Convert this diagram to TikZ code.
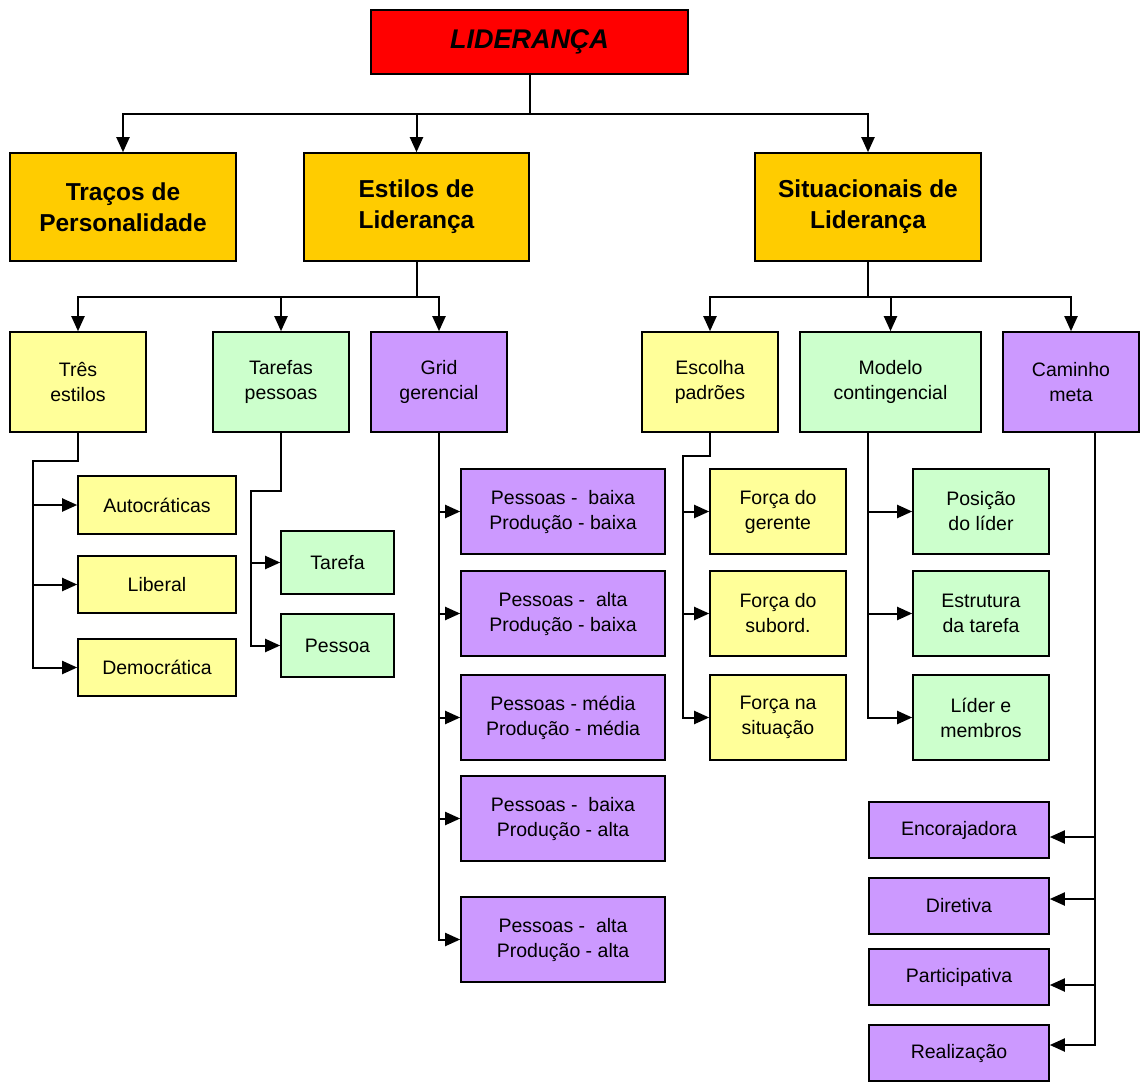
\documentclass[tikz,border=0pt]{standalone}
\usepackage{fontspec}
\setmainfont{Liberation Sans}
\usetikzlibrary{arrows.meta,calc}
\definecolor{cred}{HTML}{FF0000}
\definecolor{cgold}{HTML}{FFCC00}
\definecolor{cyel}{HTML}{FFFF99}
\definecolor{cgrn}{HTML}{CCFFCC}
\definecolor{cpur}{HTML}{CC99FF}
\begin{document}
\begin{tikzpicture}[x=1pt,y=-1pt,
 box/.style={draw=black, line width=1.6pt, align=center, inner sep=0pt, font=\fontsize{19.5}{25}\selectfont},
 head/.style={box, fill=cgold, font=\fontsize{24.5}{31}\selectfont\bfseries},
 yel/.style={box, fill=cyel}, grn/.style={box, fill=cgrn}, pur/.style={box, fill=cpur},
 line/.style={line width=2pt},
 arr/.style={line width=2pt, -{Triangle[length=15pt,width=13pt]}}]
\useasboundingbox (0,0) rectangle (1141,1082);
% level 0
\node[box, fill=cred, font=\fontsize{27}{31}\selectfont\bfseries\itshape, minimum width=317pt, minimum height=64pt] (lid) at (529.5,42) {LIDERANÇA};
% level 1
\node[head, minimum width=226pt, minimum height=108pt] (tra) at (123,207) {Traços de\\Personalidade};
\node[head, minimum width=225pt, minimum height=108pt] (est) at (416.5,207) {Estilos de\\Liderança};
\node[head, minimum width=226pt, minimum height=108pt] (sit) at (868,207) {Situacionais de\\Liderança};
% level 2
\node[yel, minimum width=136pt, minimum height=100pt] (tres) at (78,382) {Três\\estilos};
\node[grn, minimum width=136pt, minimum height=100pt] (tar) at (281,382) {Tarefas\\pessoas};
\node[pur, minimum width=136pt, minimum height=100pt] (grid) at (439,382) {Grid\\gerencial};
\node[yel, minimum width=136pt, minimum height=100pt] (esc) at (710,382) {Escolha\\padrões};
\node[grn, minimum width=181pt, minimum height=100pt] (mod) at (890.5,382) {Modelo\\contingencial};
\node[pur, minimum width=136pt, minimum height=100pt] (cam) at (1071,382) {Caminho\\meta};
% level 3
\node[yel, minimum width=158pt, minimum height=58pt] (auto) at (157,505) {Autocráticas};
\node[yel, minimum width=158pt, minimum height=57pt] (lib) at (157,584.5) {Liberal};
\node[yel, minimum width=158pt, minimum height=57pt] (dem) at (157,667.5) {Democrática};
\node[grn, minimum width=113pt, minimum height=63pt] (tfa) at (337.5,562.5) {Tarefa};
\node[grn, minimum width=113pt, minimum height=63pt] (pes) at (337.5,645.5) {Pessoa};
\node[pur, minimum width=204pt, minimum height=85pt] (g1) at (563,511.5) {Pessoas -~ baixa\\Produção - baixa};
\node[pur, minimum width=204pt, minimum height=85pt] (g2) at (563,613.5) {Pessoas -~ alta\\Produção - baixa};
\node[pur, minimum width=204pt, minimum height=85pt] (g3) at (563,717.5) {Pessoas - média\\Produção - média};
\node[pur, minimum width=204pt, minimum height=85pt] (g4) at (563,818.5) {Pessoas -~ baixa\\Produção - alta};
\node[pur, minimum width=204pt, minimum height=85pt] (g5) at (563,939.5) {Pessoas -~ alta\\Produção - alta};
\node[yel, minimum width=136pt, minimum height=85pt] (f1) at (778,511.5) {Força do\\gerente};
\node[yel, minimum width=136pt, minimum height=85pt] (f2) at (778,613.5) {Força do\\subord.};
\node[yel, minimum width=136pt, minimum height=85pt] (f3) at (778,717.5) {Força na\\situação};
\node[grn, minimum width=136pt, minimum height=85pt] (p1) at (981,511.5) {Posição\\do líder};
\node[grn, minimum width=136pt, minimum height=85pt] (p2) at (981,613.5) {Estrutura\\da tarefa};
\node[grn, minimum width=136pt, minimum height=85pt] (p3) at (981,717.5) {Líder e\\membros};
\node[pur, minimum width=180pt, minimum height=56pt] (enc) at (959,830) {Encorajadora};
\node[pur, minimum width=180pt, minimum height=56pt] (dir) at (959,906) {Diretiva};
\node[pur, minimum width=180pt, minimum height=56pt] (par) at (959,977) {Participativa};
\node[pur, minimum width=180pt, minimum height=56pt] (rea) at (959,1053) {Realização};
% junction coordinates
\coordinate (j1) at (529.5,114);
\coordinate (j2) at (416.5,297);
\coordinate (j3) at (868,297);
\coordinate (t1) at (33,461);
\coordinate (t2) at (251,491);
\coordinate (e0) at (683,456);
\coordinate (m0) at (868,432);
\coordinate (c0) at (1095,432);
\coordinate (ae) at ($(enc.east)+(0,7)$);
\coordinate (ad) at ($(dir.east)+(0,-7)$);
\coordinate (ap) at ($(par.east)+(0,8)$);
\coordinate (ar) at ($(rea.east)+(0,-8)$);
% level 0 -> 1
\draw[line] (lid.south) -- (j1);
\draw[arr] (j1) -| (tra.north);
\draw[arr] (j1) -| (est.north);
\draw[arr] (j1) -| (sit.north);
% estilos
\draw[line] (est.south) -- (j2);
\draw[arr] (j2) -| (tres.north);
\draw[arr] (j2) -| (tar.north);
\draw[arr] (j2) -| (grid.north);
% situacionais
\draw[line] (sit.south) -- (j3);
\draw[arr] (j3) -| (esc.north);
\draw[arr] (j3) -| (mod.north);
\draw[arr] (j3) -| (cam.north);
% tres estilos
\draw[arr] (tres.south) |- (t1) |- (dem.west);
\draw[arr] (t1 |- auto.west) -- (auto.west);
\draw[arr] (t1 |- lib.west) -- (lib.west);
% tarefas pessoas
\draw[arr] (tar.south) |- (t2) |- (pes.west);
\draw[arr] (t2 |- tfa.west) -- (tfa.west);
% grid
\draw[arr] (grid.south) |- (g5.west);
\draw[arr] (grid.south |- g1.west) -- (g1.west);
\draw[arr] (grid.south |- g2.west) -- (g2.west);
\draw[arr] (grid.south |- g3.west) -- (g3.west);
\draw[arr] (grid.south |- g4.west) -- (g4.west);
% escolha
\draw[arr] (esc.south) |- (e0) |- (f3.west);
\draw[arr] (e0 |- f1.west) -- (f1.west);
\draw[arr] (e0 |- f2.west) -- (f2.west);
% modelo
\draw[arr] (m0) |- (p3.west);
\draw[arr] (m0 |- p1.west) -- (p1.west);
\draw[arr] (m0 |- p2.west) -- (p2.west);
% caminho
\draw[arr] (c0) |- (ar);
\draw[arr] (c0 |- ae) -- (ae);
\draw[arr] (c0 |- ad) -- (ad);
\draw[arr] (c0 |- ap) -- (ap);
\end{tikzpicture}
\end{document}
